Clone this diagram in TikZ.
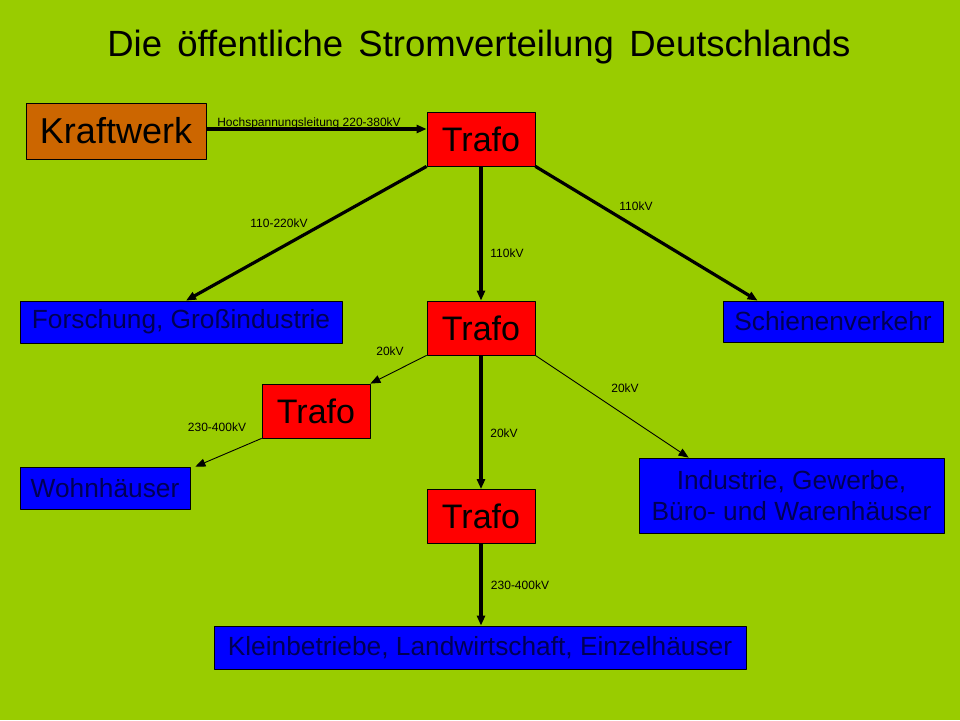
\documentclass[tikz,border=0pt]{standalone}
\usepackage{fontspec}
\setmainfont{Liberation Sans}
\usetikzlibrary{arrows.meta}
\definecolor{wiese}{RGB}{153,204,0}
\definecolor{kwbraun}{RGB}{204,102,0}
\definecolor{navy}{RGB}{0,0,85}
\tikzset{
  kasten/.style={draw=black, line width=0.8pt, inner sep=0pt, text=black},
  trafo/.style={kasten, fill=red, minimum width=108pt, minimum height=54pt, font=\fontsize{34}{38}\selectfont},
  verbraucher/.style={kasten, fill=blue, text=navy, minimum height=42pt, font=\fontsize{26.3}{31}\selectfont},
  lbl/.style={font=\fontsize{12}{14}\selectfont, inner sep=0pt},
  dick/.style={->, line width=3.2pt},
  duenn/.style={->, line width=0.9pt}
}
\begin{document}
\begin{tikzpicture} [x=1pt, y=-1pt, line join = round, >={Triangle[length=10pt,width=8pt]}]
				\fill[wiese] (0,0) rectangle (960,720);
				\node[font=\fontsize{36.5}{40}\selectfont, inner sep=0pt] (titel) at (479,47) {\spaceskip=.42em Die öffentliche Stromverteilung Deutschlands};
				\node[kasten, fill=kwbraun, minimum width=180pt, minimum height=56pt, font=\fontsize{36}{40}\selectfont] (kw) at (116,131) {Kraftwerk};
				\node[trafo] (t1) at (481,139) {Trafo};
				\node[trafo] (t2) at (481,328) {Trafo};
				\node[trafo] (t3) at (316,411) {Trafo};
				\node[trafo] (t4) at (481,516.5) {Trafo};
				\node[verbraucher, minimum width=322pt] (fs) at (181,322) {Forschung, Großindustrie};
				\node[verbraucher, minimum width=220pt, minimum height=41pt] (sv) at (833,321.5) {Schienenverkehr};
				\node[verbraucher, minimum width=170pt] (wh) at (105,488) {Wohnhäuser};
				\node[verbraucher, minimum width=305pt, minimum height=75pt, align=center] (ind) at (791.5,495.5) {Industrie, Gewerbe,\\Büro- und Warenhäuser};
				\node[verbraucher, minimum width=532pt, minimum height=43pt] (kl) at (480,647.5) {Kleinbetriebe, Landwirtschaft, Einzelhäuser};
				% Leitungen
				\draw[dick] ([yshift=2pt]kw.east) -- ([yshift=2pt]kw.east -| t1.west);
				\draw[dick] (t1.south west) -- ([xshift=5pt]fs.north);
				\draw[dick] (t1) -- (t2);
				\draw[dick] (t1.south east) -- ([xshift=35pt]sv.north west);
				\draw[duenn] (t2.south west) -- (t3.north east);
				\draw[duenn] (t3.south west) -- ([xshift=5pt]wh.north east);
				\draw[dick] (t2) -- (t4);
				\draw[duenn] (t2.south east) -- ([xshift=50pt]ind.north west);
				\draw[dick] (t4) -- (t4 |- kl.north);
				% Spannungen
				\node[lbl] (hs) at (309,123) {Hochspannungsleitung 220-380kV};
				\node[lbl] (u1) at (279,223) {110-220kV};
				\node[lbl] (u2) at (507,253) {110kV};
				\node[lbl] (u3) at (636,206) {110kV};
				\node[lbl] (u4) at (390,351) {20kV};
				\node[lbl] (u5) at (217,427) {230-400kV};
				\node[lbl] (u6) at (504,433) {20kV};
				\node[lbl] (u7) at (625,388) {20kV};
				\node[lbl] (u8) at (520,585) {230-400kV};
			\end{tikzpicture}
\end{document}
